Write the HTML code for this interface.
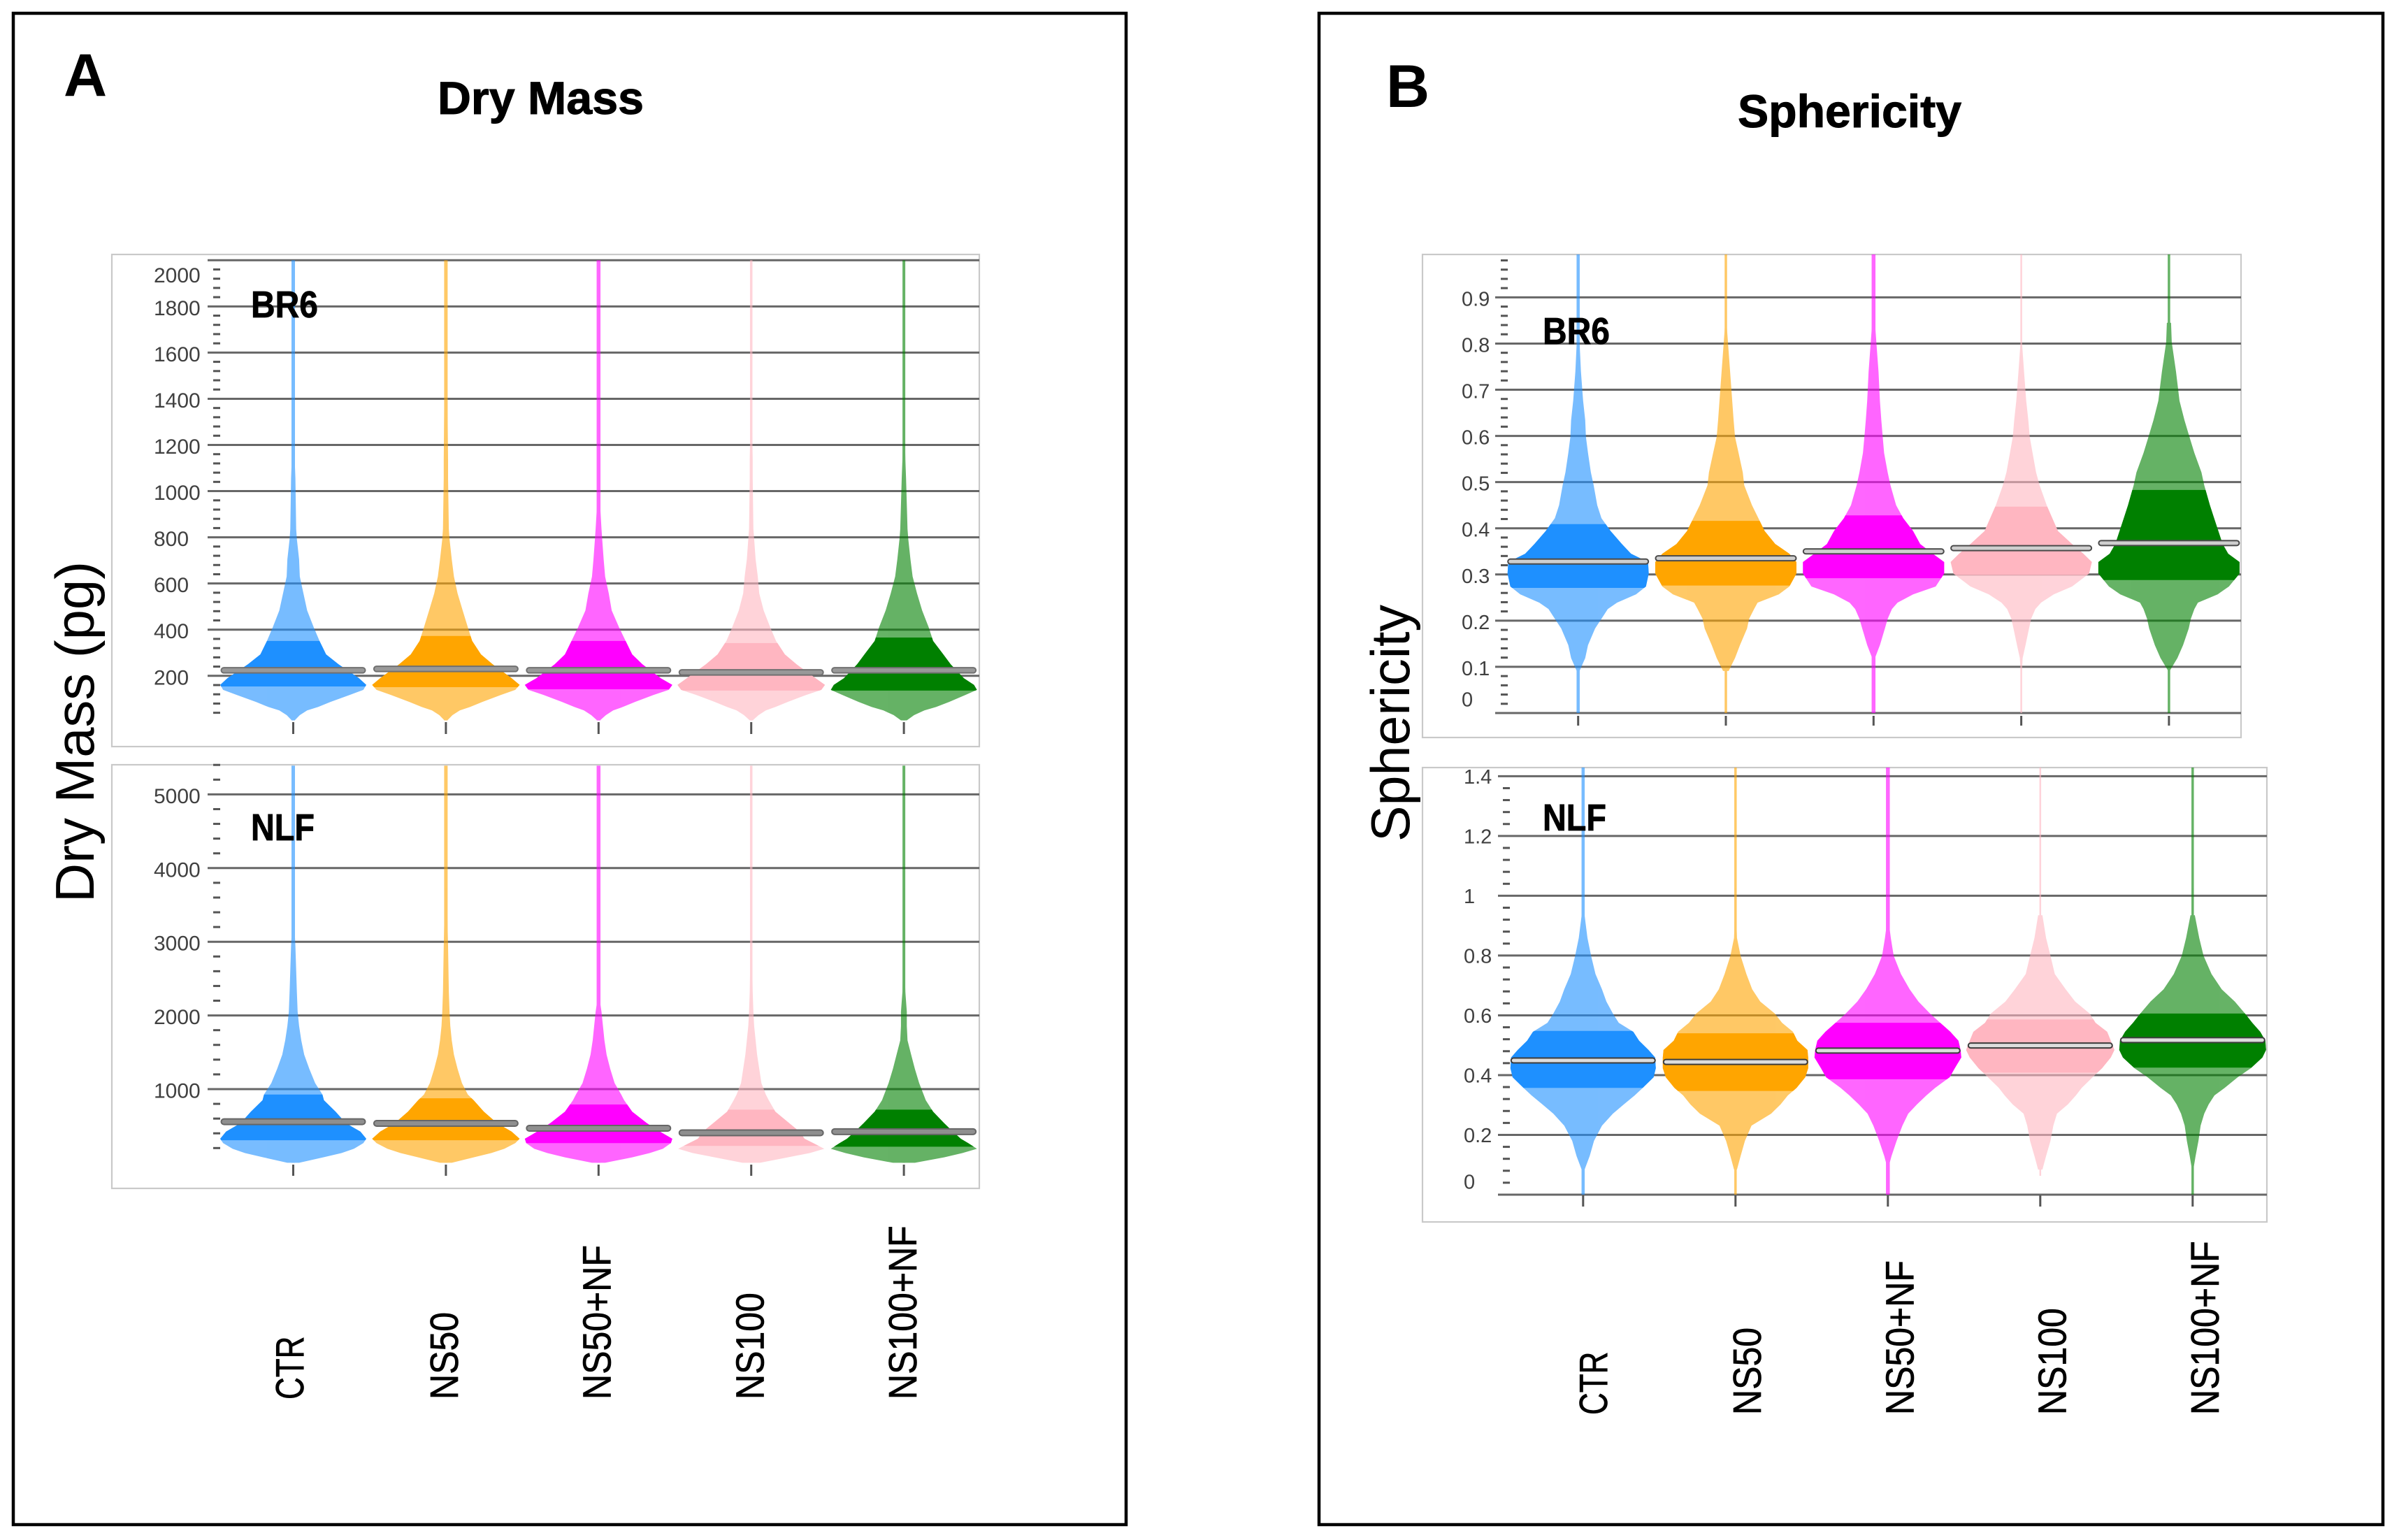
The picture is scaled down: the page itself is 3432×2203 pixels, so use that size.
<!DOCTYPE html>
<html lang="en">
<head>
<meta charset="utf-8">
<title>Dry Mass and Sphericity violin plots</title>
<style>
html,body{margin:0;padding:0;background:#fff;}
svg{display:block;}
text{font-family:"Liberation Sans",sans-serif;}
</style>
</head>
<body>
<svg id="figure" xmlns="http://www.w3.org/2000/svg" width="3432" height="2203" viewBox="0 0 3432 2203">
  <rect x="0" y="0" width="3432" height="2203" fill="#ffffff"/>
  <rect x="19" y="19" width="1592" height="2162" fill="none" stroke="#000" stroke-width="4.5"/>
  <rect x="1887" y="19" width="1522" height="2162" fill="none" stroke="#000" stroke-width="4.5"/>
  <text x="91" y="137" font-size="86" font-weight="bold" fill="#000">A</text>
  <text x="1983" y="153" font-size="86" font-weight="bold" fill="#000">B</text>
  <text x="626" y="163" font-size="66" font-weight="bold" fill="#000" stroke="#000" stroke-width="1" textLength="295" lengthAdjust="spacingAndGlyphs">Dry Mass</text>
  <text x="2486" y="182" font-size="66" font-weight="bold" fill="#000" stroke="#000" stroke-width="1" textLength="320" lengthAdjust="spacingAndGlyphs">Sphericity</text>
  <text transform="translate(134 1291) rotate(-90)" font-size="78" fill="#000" textLength="488" lengthAdjust="spacingAndGlyphs">Dry Mass (pg)</text>
  <text transform="translate(2016 1204) rotate(-90)" font-size="78" fill="#000" textLength="339" lengthAdjust="spacingAndGlyphs">Sphericity</text>
  <line x1="178" x2="202" y1="1440" y2="1440" stroke="#aaaaaa" stroke-width="1.5"/>
  <g id="plots"></g>
  <text x="359" y="454" font-size="54" font-weight="bold" fill="#000" stroke="#000" stroke-width="0.8" textLength="96" lengthAdjust="spacingAndGlyphs">BR6</text>
  <text x="359" y="1202" font-size="54" font-weight="bold" fill="#000" stroke="#000" stroke-width="0.8" textLength="91" lengthAdjust="spacingAndGlyphs">NLF</text>
  <text x="2207" y="492" font-size="54" font-weight="bold" fill="#000" stroke="#000" stroke-width="0.8" textLength="96" lengthAdjust="spacingAndGlyphs">BR6</text>
  <text x="2207" y="1188" font-size="54" font-weight="bold" fill="#000" stroke="#000" stroke-width="0.8" textLength="91" lengthAdjust="spacingAndGlyphs">NLF</text>
</svg>
<script>
// Shared categories
const categories = ['CTR', 'NS50', 'NS50+NF', 'NS100', 'NS100+NF'];
const darkColors = ['#1e90ff', '#ffa500', '#ff00ff', '#ffb6c1', '#008000'];

// ---- Dry Mass / BR6 ----
const dryBr6Ticks = [200, 400, 600, 800, 1000, 1200, 1400, 1600, 1800, 2000];
const dryBr6Levels = [7, 30, 50, 65, 87, 117, 139, 161, 190, 250, 293, 351, 410, 483, 557, 630, 704, 792, 836, 1056, 1137, 1450];
const dryBr6Ctr = [2, 9, 19, 34, 51, 77, 96, 100, 90, 62, 45, 36, 28, 19, 14, 9, 8, 5, 4, 3, 2, 0];
const dryBr6Ns50 = [2, 9, 19, 33, 50, 75, 95, 101, 90, 64, 48, 36, 30, 23, 16, 11, 8, 5, 4, 3, 3, 2];
const dryBr6Ns50Nf = [2, 10, 20, 33, 50, 75, 96, 101, 85, 60, 46, 37, 28, 18, 14, 9, 7, 5, 4, 0, 0, 0];
const dryBr6Ns100 = [2, 10, 20, 33, 50, 75, 96, 101, 88, 62, 46, 34, 26, 17, 11, 9, 6, 4, 3, 2, 2, 0];
const dryBr6Ns100Nf = [4, 14, 28, 44, 62, 84, 100, 96, 82, 64, 54, 40, 34, 25, 18, 12, 9, 6, 5, 3, 2, 0];
const dryBr6Q1 = [154, 151, 142, 136, 136];
const dryBr6Q3 = [351, 373, 351, 342, 366];
const dryBr6Mean = [224, 230, 224, 215, 224];
const dryBr6StemLow = [7, 7, 7, 7, 7];

// ---- Dry Mass / NLF ----
const dryNlfTicks = [1000, 2000, 3000, 4000, 5000];
const dryNlfLevels = [0, 74, 132, 190, 268, 326, 423, 539, 694, 849, 926, 1081, 1275, 1468, 1662, 1856, 2049, 2320, 2940, 3347];
const dryNlfCtr = [8, 41, 66, 83, 96, 100, 92, 72, 58, 42, 40, 30, 22, 15, 11, 8, 6, 5, 3, 1];
const dryNlfNs50 = [8, 38, 62, 80, 95, 101, 90, 70, 52, 38, 30, 22, 16, 11, 8, 6, 5, 4, 3, 2];
const dryNlfNs50Nf = [9, 46, 70, 88, 99, 101, 84, 66, 46, 35, 31, 22, 16, 11, 8, 6, 4, 0, 0, 0];
const dryNlfNs100 = [12, 50, 80, 100, 85, 73, 66, 52, 33, 24, 20, 14, 11, 8, 6, 4, 3, 2, 1, 0];
const dryNlfNs100Nf = [15, 55, 80, 100, 88, 78, 67, 55, 40, 30, 27, 21, 15, 10, 5, 4, 4, 2, 0, 0];
const dryNlfQ1 = [306, 306, 268, 229, 218];
const dryNlfQ3 = [926, 876, 791, 721, 721];
const dryNlfMean = [558, 535, 469, 407, 423];
const dryNlfStemLow = [0, 0, 0, 0, 0];

// ---- Sphericity / BR6 ----
const sphBr6Ticks = [0, 0.1, 0.2, 0.3, 0.4, 0.5, 0.6, 0.7, 0.8, 0.9];
const sphBr6Levels = [0.091, 0.119, 0.147, 0.183, 0.204, 0.225, 0.239, 0.257, 0.274, 0.302, 0.327, 0.345, 0.366, 0.394, 0.422, 0.450, 0.493, 0.521, 0.563, 0.598, 0.634, 0.676, 0.739, 0.803, 0.845];
const sphBr6Ctr = [2, 10, 14, 24, 33, 42, 55, 82, 96, 100, 99, 75, 62, 46, 33, 27, 22, 18, 14, 11, 10, 7, 4, 2, 0];
const sphBr6Ns50 = [4, 13, 20, 30, 33, 40, 45, 75, 90, 100, 100, 90, 70, 55, 46, 37, 26, 24, 18, 13, 11, 9, 6, 3, 1];
const sphBr6Ns50Nf = [0, 2, 9, 16, 20, 26, 34, 56, 88, 100, 100, 84, 66, 56, 42, 32, 24, 20, 15, 13, 11, 9, 7, 4, 2];
const sphBr6Ns100 = [1, 2, 6, 11, 14, 20, 28, 46, 72, 96, 100, 88, 72, 52, 44, 36, 26, 21, 16, 12, 10, 7, 4, 1, 1];
const sphBr6Ns100Nf = [1, 12, 20, 28, 31, 36, 41, 69, 85, 100, 100, 84, 76, 70, 64, 58, 50, 46, 36, 29, 22, 15, 10, 4, 3];
const sphBr6Q1 = [0.271, 0.276, 0.292, 0.299, 0.288];
const sphBr6Q3 = [0.409, 0.416, 0.428, 0.447, 0.483];
const sphBr6Mean = [0.328, 0.335, 0.350, 0.357, 0.368];
const sphBr6StemLow = [0, 0, 0, 0, 0];

// ---- Sphericity / NLF ----
const sphNlfTicks = [0, 0.2, 0.4, 0.6, 0.8, 1, 1.2, 1.4];
const sphNlfLevels = [0.084, 0.129, 0.180, 0.231, 0.271, 0.302, 0.332, 0.357, 0.393, 0.423, 0.459, 0.484, 0.515, 0.545, 0.575, 0.606, 0.646, 0.687, 0.738, 0.799, 0.859, 0.935];
const sphNlfCtr = [2, 9, 15, 26, 41, 56, 71, 82, 97, 100, 99, 90, 77, 69, 49, 41, 32, 26, 17, 11, 6, 2];
const sphNlfNs50 = [2, 7, 13, 22, 49, 62, 72, 84, 96, 100, 100, 99, 85, 79, 64, 54, 34, 23, 15, 7, 2, 1];
const sphNlfNs50Nf = [0, 5, 12, 20, 28, 40, 53, 65, 85, 92, 101, 100, 97, 86, 72, 58, 42, 30, 18, 8, 4, 0];
const sphNlfNs100 = [3, 8, 14, 18, 23, 38, 49, 57, 72, 85, 97, 102, 97, 92, 76, 68, 48, 35, 20, 14, 8, 3];
const sphNlfNs100Nf = [1, 4, 8, 11, 16, 22, 30, 44, 62, 80, 96, 101, 100, 93, 82, 72, 58, 40, 26, 15, 9, 3];
const sphNlfQ1 = [0.357, 0.347, 0.386, 0.408, 0.425];
const sphNlfQ3 = [0.548, 0.540, 0.575, 0.586, 0.606];
const sphNlfMean = [0.449, 0.444, 0.482, 0.499, 0.517];
const sphNlfStemLow = [0, 0, 0, 0.063, 0];

const SVG_NS = 'http://www.w3.org/2000/svg';
const plots = document.getElementById('plots');

function make(parent, tag, attrs) {
  const el = document.createElementNS(SVG_NS, tag);
  for (const k in attrs) el.setAttribute(k, attrs[k]);
  parent.appendChild(el);
  return el;
}

function widthAt(levels, widths, v) {
  if (v <= levels[0]) return widths[0];
  for (let i = 1; i < levels.length; i++) {
    if (v <= levels[i]) {
      const t = (v - levels[i - 1]) / (levels[i] - levels[i - 1]);
      return widths[i - 1] + t * (widths[i] - widths[i - 1]);
    }
  }
  return 0;
}

function outline(levels, widths, lo, hi, cx, yScale, halfScale) {
  const vals = [lo];
  levels.forEach(function (l) { if (l > lo && l < hi) vals.push(l); });
  vals.push(hi);
  const left = [], right = [];
  vals.forEach(function (v) {
    const h = widthAt(levels, widths, v) * halfScale;
    left.push((cx - h).toFixed(1) + ',' + yScale(v).toFixed(1));
    right.unshift((cx + h).toFixed(1) + ',' + yScale(v).toFixed(1));
  });
  return left.concat(right).join(' ');
}

function drawPanel(p) {
  const y = function (v) { return p.y0 - (v - p.v0) * p.k; };
  const x = function (i) { return p.x0 + i * p.dx; };
  const g = make(plots, 'g', {});
  
  

  const border = make(g, 'rect', { x: p.left, y: p.top, width: p.right - p.left, height: p.bottom - p.top, fill: '#fff', stroke: '#c9c9c9', 'stroke-width': 2.2 });
  
  

  p.ticks.forEach(function (t) {
    const line = make(g, 'line', { x1: p.gridLeft, x2: p.right, y1: y(t), y2: y(t), stroke: '#676767', 'stroke-width': 3 });
    
    
    let shift = p.labelDy;
    if (t === p.shiftedTick) shift = p.shiftAmount;
    const label = make(g, 'text', { x: p.labelX, y: y(t) + shift + 10.5, 'font-size': p.labelSize, fill: '#404040' });
    label.textContent = String(t);
    
    
  });

  for (let m = p.minorStart; m <= p.minorEnd + 1e-9; m += p.minorStep) {
    const isMajor = Math.abs(m / p.majorStep - Math.round(m / p.majorStep)) < 1e-6;
    if (isMajor) continue;
    const tick = make(g, 'line', { x1: p.minorX, x2: p.minorX + 10, y1: y(m), y2: y(m), stroke: '#555555', 'stroke-width': 3 });
    
    
  }

  p.series.forEach(function (widths, i) {
    const cx = x(i);
    const dark = darkColors[i];
    const vg = make(g, 'g', {});
    
    

    const soft = make(vg, 'g', { opacity: 0.6 });
    
    

    const stem = make(soft, 'rect', { x: cx - p.stemW[i] / 2, y: y(p.stemHigh), width: p.stemW[i], height: y(p.stemLow[i]) - y(p.stemHigh), fill: dark });
    
    

    const hs = p.maxHalf / 100;
    const last = p.levels[p.levels.length - 1];
    const body = make(soft, 'polygon', { points: outline(p.levels, widths, p.levels[0], last, cx, y, hs), fill: dark });
    
    

    const band = make(vg, 'polygon', { points: outline(p.levels, widths, p.q1[i], p.q3[i], cx, y, hs), fill: dark });
    
    

    const bh = p.meanHeight;
    const bar = make(vg, 'rect', { x: cx - p.meanHalf, y: y(p.mean[i]) - bh / 2, width: p.meanHalf * 2, height: bh, rx: bh / 2, fill: p.meanFill, stroke: p.meanStroke, 'stroke-width': 2 });
    
    

    const xt = make(g, 'line', { x1: cx, x2: cx, y1: p.tickTop, y2: p.tickBottom, stroke: '#555555', 'stroke-width': 3 });
    
    
  });
}

drawPanel({
  name: 'dry-mass-br6-plot', left: 160, right: 1401, top: 364, bottom: 1068, gridLeft: 297,
  y0: 966.8, v0: 200, k: 0.3303, x0: 419.5, dx: 218.4, maxHalf: 104.5, meanHalf: 103, meanHeight: 7.5,
  ticks: dryBr6Ticks, levels: dryBr6Levels,
  series: [dryBr6Ctr, dryBr6Ns50, dryBr6Ns50Nf, dryBr6Ns100, dryBr6Ns100Nf],
  q1: dryBr6Q1, q3: dryBr6Q3, mean: dryBr6Mean,
  labelX: 220, labelSize: 30, labelDy: 2, shiftedTick: 2000, shiftAmount: 21,
  minorX: 305, minorStart: 40, minorEnd: 1960, minorStep: 40, majorStep: 200,
  stemHigh: 2000, stemLow: dryBr6StemLow, stemW: [5, 5, 5.5, 3.5, 4],
  tickTop: 1033, tickBottom: 1050, meanFill: '#999999', meanStroke: '#707070'
});
drawPanel({
  name: 'dry-mass-nlf-plot', left: 160, right: 1401, top: 1094, bottom: 1700, gridLeft: 297,
  y0: 1558, v0: 1000, k: 0.1054, x0: 419.5, dx: 218.4, maxHalf: 104.5, meanHalf: 103, meanHeight: 8,
  ticks: dryNlfTicks, levels: dryNlfLevels,
  series: [dryNlfCtr, dryNlfNs50, dryNlfNs50Nf, dryNlfNs100, dryNlfNs100Nf],
  q1: dryNlfQ1, q3: dryNlfQ3, mean: dryNlfMean,
  labelX: 220, labelSize: 30, labelDy: 2, shiftedTick: null, shiftAmount: 0,
  minorX: 305, minorStart: 200, minorEnd: 5400, minorStep: 200, majorStep: 1000,
  stemHigh: 5390, stemLow: dryNlfStemLow, stemW: [5, 5, 5.5, 3.5, 4],
  tickTop: 1666, tickBottom: 1682, meanFill: '#8f8f8f', meanStroke: '#666666'
});
drawPanel({
  name: 'sphericity-br6-plot', left: 2035, right: 3206, top: 364, bottom: 1055, gridLeft: 2139,
  y0: 1020, v0: 0, k: 660.7, x0: 2257.7, dx: 211.3, maxHalf: 101, meanHalf: 100.5, meanHeight: 7,
  ticks: sphBr6Ticks, levels: sphBr6Levels,
  series: [sphBr6Ctr, sphBr6Ns50, sphBr6Ns50Nf, sphBr6Ns100, sphBr6Ns100Nf],
  q1: sphBr6Q1, q3: sphBr6Q3, mean: sphBr6Mean,
  labelX: 2091, labelSize: 29, labelDy: 1.5, shiftedTick: 0, shiftAmount: -20,
  minorX: 2147, minorStart: 0.02, minorEnd: 0.98, minorStep: 0.02, majorStep: 0.1,
  stemHigh: 0.993, stemLow: sphBr6StemLow, stemW: [4.5, 3.5, 5.5, 2.5, 3.5],
  tickTop: 1024, tickBottom: 1038, meanFill: '#cfcfcf', meanStroke: '#4a4a4a'
});
drawPanel({
  name: 'sphericity-nlf-plot', left: 2035, right: 3243, top: 1098, bottom: 1748, gridLeft: 2143,
  y0: 1709, v0: 0, k: 427.6, x0: 2264.8, dx: 218, maxHalf: 104, meanHalf: 103, meanHeight: 7,
  ticks: sphNlfTicks, levels: sphNlfLevels,
  series: [sphNlfCtr, sphNlfNs50, sphNlfNs50Nf, sphNlfNs100, sphNlfNs100Nf],
  q1: sphNlfQ1, q3: sphNlfQ3, mean: sphNlfMean,
  labelX: 2094, labelSize: 29, labelDy: 0, shiftedTick: 0, shiftAmount: -19,
  minorX: 2150, minorStart: 0.04, minorEnd: 1.36, minorStep: 0.04, majorStep: 0.2,
  stemHigh: 1.429, stemLow: sphNlfStemLow, stemW: [4.5, 3.5, 5.5, 2.5, 3.5],
  tickTop: 1710, tickBottom: 1726, meanFill: '#dddddd', meanStroke: '#3c3c3c'
});

function drawCategoryLabels(panel, firstBaseline, step, startY) {
  categories.forEach(function (c, i) {
    const bx = firstBaseline + i * step - (c === 'CTR' ? 2 : 0);
    const xScale = c === 'CTR' ? 0.88 : 1;
    const t = make(plots, 'text', { transform: 'translate(' + bx + ' ' + startY + ') rotate(-90) scale(' + xScale + ' 1.14)', 'font-size': 50, fill: '#000', stroke: '#000', 'stroke-width': 0.6 });
    t.textContent = c;
    
    
  });
}
drawCategoryLabels('dry-mass', 436, 218.8, 2002);
drawCategoryLabels('sphericity', 2301, 218.2, 2024);
</script>
</body>
</html>
